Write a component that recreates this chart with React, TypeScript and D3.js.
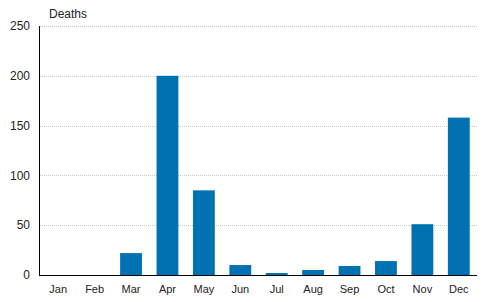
import React from "react";
import * as d3 from "d3";

const months = ["Jan", "Feb", "Mar", "Apr", "May", "Jun", "Jul", "Aug", "Sep", "Oct", "Nov", "Dec"];
const deaths = [0, 0, 22, 200, 85, 10, 2, 5, 9, 14, 51, 158];
const yTicks = [0, 50, 100, 150, 200, 250];

export default function App() {
  const W = 491, H = 302;
  const left = 40, right = 477, top = 26, bottom = 275;
  const x = d3.scaleBand<string>().domain(months).range([left, right]).paddingInner(0.4).paddingOuter(0.2);
  const y = d3.scaleLinear().domain([0, 250]).range([bottom, top]);
  const font = "'Liberation Sans', Arial, sans-serif";
  return (
    <svg width={W} height={H} style={{ position: "absolute", left: 0, top: 0 }} fontFamily={font}>
      <rect width={W} height={H} fill="#fff" />
      {yTicks.filter(t => t > 0).map(t => (
        <line key={t} x1={left} x2={right} y1={Math.round(y(t)) + 0.5} y2={Math.round(y(t)) + 0.5}
          stroke="#c8c8c8" strokeWidth={1} strokeDasharray="1,1" />
      ))}
      {months.map((m, i) => (
        <rect key={m} x={x(m)} y={y(deaths[i])} width={x.bandwidth()} height={bottom - y(deaths[i])} fill="#0072b2" />
      ))}
      <line x1={left - 0.5} x2={left - 0.5} y1={top} y2={bottom + 1} stroke="#000" strokeWidth={1} />
      <line x1={left} x2={right} y1={bottom + 0.5} y2={bottom + 0.5} stroke="#000" strokeWidth={1} />
      {yTicks.map(t => (
        <text key={t} x={30} y={y(t)} dy="0.35em" textAnchor="end" fontSize={12} fill="#222">{t}</text>
      ))}
      {months.map(m => (
        <text key={m} x={(x(m) as number) + x.bandwidth() / 2} y={293} textAnchor="middle" fontSize={11} fill="#222">{m}</text>
      ))}
      <text x={49} y={18} fontSize={12} fill="#222">Deaths</text>
    </svg>
  );
}
